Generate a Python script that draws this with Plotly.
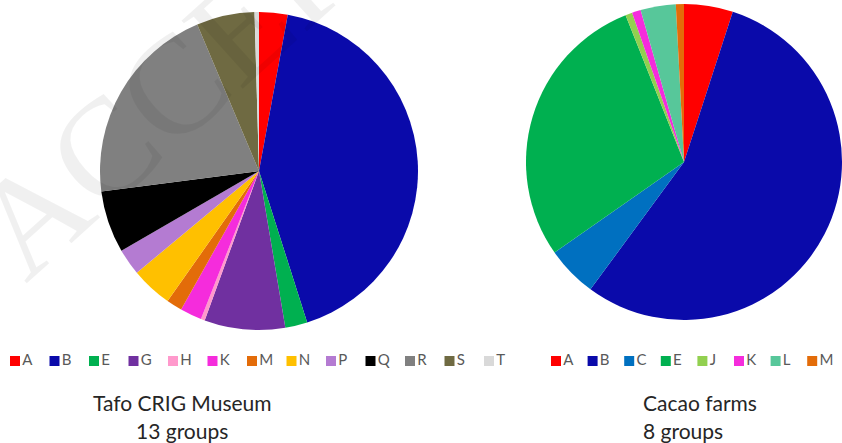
import plotly.graph_objects as go

# Left pie: Tafo CRIG Museum
museum_labels = ["A", "B", "E", "G", "H", "K", "M", "N", "P", "Q", "R", "S", "T"]
museum_values = [2.9, 42.2, 2.25, 8.2, 0.4, 2.2, 1.6, 4.2, 2.7, 6.3, 20.7, 5.9, 0.45]
museum_colors = ["#FF0000", "#0A0AAA", "#00B050", "#7030A0", "#FF99CC", "#F52CDC",
                 "#E36C09", "#FFC000", "#B47BD2", "#000000", "#808080", "#6F6A42", "#D9D9D9"]

# Right pie: Cacao farms
farm_labels = ["A", "B", "C", "E", "J", "K", "L", "M"]
farm_values = [5.0, 55.1, 5.2, 28.7, 0.7, 0.9, 3.6, 0.83]
farm_colors = ["#FF0000", "#0A0AAA", "#0070C0", "#00B050", "#92D050", "#F52CDC",
               "#57C79A", "#E36C09"]

W, H = 842, 443
FONT = "Lato, Open Sans, sans-serif"

fig = go.Figure()
fig.add_trace(go.Pie(
    labels=museum_labels, values=museum_values, sort=False, direction="clockwise",
    rotation=0, marker=dict(colors=museum_colors, line=dict(width=0)),
    textinfo="none", hoverinfo="label+value", showlegend=False,
    domain=dict(x=[100 / W, 418 / W], y=[1 - 330 / H, 1 - 12 / H]),
))
fig.add_trace(go.Pie(
    labels=farm_labels, values=farm_values, sort=False, direction="clockwise",
    rotation=0, marker=dict(colors=farm_colors, line=dict(width=0)),
    textinfo="none", hoverinfo="label+value", showlegend=False,
    domain=dict(x=[526 / W, 1.0], y=[1 - 320 / H, 1 - 4 / H]),
))

# Legend rows (one entry per category, drawn on index axes)
legend_text_font = dict(family=FONT, size=15, color="#595959")
fig.add_trace(go.Scatter(
    x=list(range(len(museum_labels))), y=[0] * len(museum_labels),
    mode="markers+text", text=museum_labels, textposition="middle right",
    textfont=legend_text_font, cliponaxis=False,
    marker=dict(symbol="square", size=10, color=museum_colors, line=dict(width=0)),
    xaxis="x", yaxis="y", showlegend=False, hoverinfo="text",
))
fig.add_trace(go.Scatter(
    x=list(range(len(farm_labels))), y=[0] * len(farm_labels),
    mode="markers+text", text=farm_labels, textposition="middle right",
    textfont=legend_text_font, cliponaxis=False,
    marker=dict(symbol="square", size=10, color=farm_colors, line=dict(width=0)),
    xaxis="x2", yaxis="y", showlegend=False, hoverinfo="text",
))

left_step, left_start = 39.5, 15.0
right_step, right_start = 36.6, 556.0
hidden = dict(visible=False, showgrid=False, zeroline=False, fixedrange=True)

fig.update_layout(
    width=W, height=H,
    margin=dict(l=0, r=0, t=0, b=0),
    paper_bgcolor="white", plot_bgcolor="rgba(0,0,0,0)",
    xaxis=dict(domain=[0, 1], range=[-left_start / left_step, (W - left_start) / left_step], **hidden),
    xaxis2=dict(domain=[0, 1], range=[-right_start / right_step, (W - right_start) / right_step],
                anchor="y", **hidden),
    yaxis=dict(domain=[1 - 371 / H, 1 - 351 / H], range=[-1, 1], **hidden),
    annotations=[
        dict(text="Tafo CRIG Museum", x=182 / W, y=1 - 402 / H, xref="paper", yref="paper",
             xanchor="center", yanchor="middle", showarrow=False,
             font=dict(family=FONT, size=21, color="#262626")),
        dict(text="13 groups", x=182 / W, y=1 - 430 / H, xref="paper", yref="paper",
             xanchor="center", yanchor="middle", showarrow=False,
             font=dict(family=FONT, size=21, color="#262626")),
        dict(text="Cacao farms", x=641 / W, y=1 - 402 / H, xref="paper", yref="paper",
             xanchor="left", yanchor="middle", showarrow=False,
             font=dict(family=FONT, size=21, color="#262626")),
        dict(text="8 groups", x=641 / W, y=1 - 430 / H, xref="paper", yref="paper",
             xanchor="left", yanchor="middle", showarrow=False,
             font=dict(family=FONT, size=21, color="#262626")),
        dict(text="ACCEPTED", x=262 / W, y=1 - 7 / H, xref="paper", yref="paper",
             xanchor="center", yanchor="middle", showarrow=False, textangle=-42,
             font=dict(family="Liberation Serif, serif", size=140, color="rgba(0,0,0,0.06)")),
    ],
)

fig.write_html(
    "out.html",
    config={"displayModeBar": False, "staticPlot": True},
    post_script="document.body.style.margin='0';document.body.style.padding='0';",
)
